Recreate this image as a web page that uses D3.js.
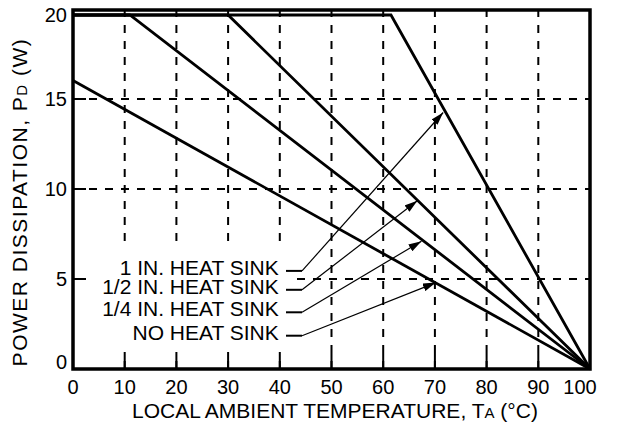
<!DOCTYPE html>
<html>
<head>
<meta charset="utf-8">
<script src="https://cdn.jsdelivr.net/npm/d3@7"></script>
<style>
  body { margin: 0; background: #fff; }
  text { font-family: "Liberation Sans", Arial, sans-serif; fill: #000; }
</style>
</head>
<body>
<div id="chart"></div>
<script>
// Data
var tempTicks = [0, 10, 20, 30, 40, 50, 60, 70, 80, 90, 100]
var powerTicks = [0, 5, 10, 15, 20]

var temp1in = [0, 61.5, 100],   power1in = [20, 20, 0]
var temp12in = [0, 30, 100],    power12in = [20, 20, 0]
var temp14in = [0, 11, 100],    power14in = [20, 20, 0]
var tempNone = [0, 100],        powerNone = [16.1, 0]

// callout labels: leader height, arrow tip on the curve
var calloutNames = ["1 IN. HEAT SINK", "1/2 IN. HEAT SINK", "1/4 IN. HEAT SINK", "NO HEAT SINK"]
var calloutY = [5.45, 4.4, 3.15, 1.85]
var tipX = [71.6, 66.6, 67.4, 70.2]
var tipY = [14.25, 9.35, 7.1, 4.8]

var width = 624, height = 432
var margin = {top: 10, right: 34, bottom: 63, left: 73}

var svg = d3.select("#chart")
  .append("svg")
  .attr("width", width)
  .attr("height", height)

var x = d3.scaleLinear()
  .domain([0, 100])
  .range([margin.left, width - margin.right])

// the printed grid is not evenly spaced near the top, so use a piecewise scale
var y = d3.scaleLinear()
  .domain([0, 5, 10, 15, 20])
  .range([369, 279, 189, 99, 15])

var plotTop = margin.top, plotBottom = height - margin.bottom

svg.append("defs").append("marker")
  .attr("id", "arrow")
  .attr("markerUnits", "userSpaceOnUse")
  .attr("markerWidth", 13)
  .attr("markerHeight", 8)
  .attr("refX", 13)
  .attr("refY", 4)
  .attr("orient", "auto")
  .append("path")
  .attr("d", "M0,0 L13,4 L0,8 Z")
  .attr("fill", "#000")

// dashed grid
svg.append("g")
  .selectAll("line")
  .data(tempTicks.slice(1, -1))
  .enter()
  .append("line")
  .attr("x1", d => x(d)).attr("x2", d => x(d))
  .attr("y1", plotBottom).attr("y2", plotTop)
  .attr("stroke", "#000")
  .attr("stroke-width", 2)
  .attr("stroke-dasharray", "8,8")

svg.append("g")
  .selectAll("line")
  .data(powerTicks.slice(1, -1))
  .enter()
  .append("line")
  .attr("x1", x(0)).attr("x2", x(100))
  .attr("y1", d => y(d)).attr("y2", d => y(d))
  .attr("stroke", "#000")
  .attr("stroke-width", 2)
  .attr("stroke-dasharray", "8,8")

// white patch behind the callout labels
svg.append("rect")
  .attr("x", 87).attr("y", 248)
  .attr("width", 208).attr("height", 104)
  .attr("fill", "#fff")

// inward tick marks
svg.append("g")
  .selectAll("line")
  .data(tempTicks.slice(1, -1))
  .enter()
  .append("line")
  .attr("x1", d => x(d)).attr("x2", d => x(d))
  .attr("y1", plotBottom).attr("y2", plotBottom - 16)
  .attr("stroke", "#000")
  .attr("stroke-width", 2)

svg.append("g")
  .selectAll("line")
  .data(powerTicks.slice(1, -1))
  .enter()
  .append("line")
  .attr("x1", x(0)).attr("x2", x(0) + 13)
  .attr("y1", d => y(d)).attr("y2", d => y(d))
  .attr("stroke", "#000")
  .attr("stroke-width", 2)

// frame
svg.append("rect")
  .attr("x", x(0)).attr("y", plotTop)
  .attr("width", x(100) - x(0)).attr("height", plotBottom - plotTop)
  .attr("fill", "none")
  .attr("stroke", "#000")
  .attr("stroke-width", 3.5)

// curves
var line = d3.line()
  .x(d => x(d[0]))
  .y(d => y(d[1]))

var curves = [
  d3.zip(temp1in, power1in),
  d3.zip(temp12in, power12in),
  d3.zip(temp14in, power14in),
  d3.zip(tempNone, powerNone)
]

svg.append("g")
  .selectAll("path")
  .data(curves)
  .enter()
  .append("path")
  .attr("d", line)
  .attr("fill", "none")
  .attr("stroke", "#000")
  .attr("stroke-width", 2.8)
  .attr("stroke-linejoin", "miter")

// callouts
var callouts = svg.append("g")
  .selectAll("g")
  .data(calloutNames)
  .enter()
  .append("g")

callouts.append("text")
  .attr("x", x(39.8))
  .attr("y", (d, i) => y(calloutY[i]) + 4)
  .attr("text-anchor", "end")
  .attr("font-size", 21)
  .text(d => d)

callouts.append("line")
  .attr("x1", x(41.2)).attr("x2", x(44.3))
  .attr("y1", (d, i) => y(calloutY[i]))
  .attr("y2", (d, i) => y(calloutY[i]))
  .attr("stroke", "#000")
  .attr("stroke-width", 2)

callouts.append("line")
  .attr("x1", x(44.3))
  .attr("y1", (d, i) => y(calloutY[i]))
  .attr("x2", (d, i) => x(tipX[i]))
  .attr("y2", (d, i) => y(tipY[i]))
  .attr("stroke", "#000")
  .attr("stroke-width", 1.2)
  .attr("marker-end", "url(#arrow)")

// tick labels
svg.append("g")
  .selectAll("text")
  .data(tempTicks)
  .enter()
  .append("text")
  .attr("x", d => x(d) + (d == 100 ? -10 : 0))
  .attr("y", 394)
  .attr("text-anchor", "middle")
  .attr("font-size", 20)
  .text(d => d)

svg.append("g")
  .selectAll("text")
  .data(powerTicks)
  .enter()
  .append("text")
  .attr("x", x(0) - 6)
  .attr("y", d => y(d) + 7 - (d == 0 ? 7 : 0))
  .attr("text-anchor", "end")
  .attr("font-size", 20)
  .text(d => d)

// axis titles
var xTitle = svg.append("text")
  .attr("x", 335)
  .attr("y", 418)
  .attr("text-anchor", "middle")
  .attr("font-size", 21)
xTitle.append("tspan").text("LOCAL AMBIENT TEMPERATURE, T")
xTitle.append("tspan").attr("font-size", 15).text("A")
xTitle.append("tspan").text(" (°C)")

var yTitle = svg.append("text")
  .attr("transform", "translate(27,202) rotate(-90)")
  .attr("text-anchor", "middle")
  .attr("font-size", 21)
  .attr("letter-spacing", 1.5)
yTitle.append("tspan").text("POWER DISSIPATION, P")
yTitle.append("tspan").attr("font-size", 15).text("D")
yTitle.append("tspan").text(" (W)")
</script>
</body>
</html>
